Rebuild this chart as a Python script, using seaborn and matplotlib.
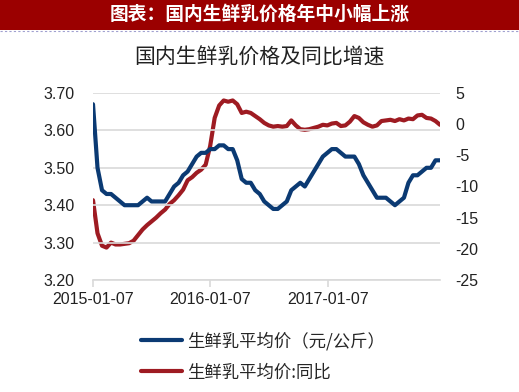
import matplotlib
matplotlib.use('Agg')

import matplotlib.pyplot as plt
import pandas as pd
import seaborn as sns

# Values (biweekly, 2015-01-07 .. 2017-12-20)
dates = pd.date_range('2015-01-07', periods=78, freq='14D')

price = [3.67, 3.50, 3.44, 3.43, 3.43, 3.42, 3.41, 3.40, 3.40, 3.40,
         3.40, 3.41, 3.42, 3.41, 3.41, 3.41, 3.41, 3.43, 3.45, 3.46,
         3.48, 3.49, 3.51, 3.53, 3.54, 3.54, 3.55, 3.55, 3.56, 3.56,
         3.55, 3.55, 3.52, 3.47, 3.46, 3.46, 3.44, 3.43, 3.41, 3.40,
         3.39, 3.39, 3.40, 3.41, 3.44, 3.45, 3.46, 3.45, 3.47, 3.49,
         3.51, 3.53, 3.54, 3.55, 3.55, 3.54, 3.53, 3.53, 3.53, 3.51,
         3.48, 3.46, 3.44, 3.42, 3.42, 3.42, 3.41, 3.40, 3.41, 3.42,
         3.46, 3.48, 3.48, 3.49, 3.50, 3.50, 3.52, 3.52]

yoy = [-12.2, -17.5, -19.5, -19.8, -19.0, -19.3, -19.3, -19.2, -19.1, -18.7,
       -17.8, -16.9, -16.2, -15.6, -15.0, -14.3, -13.7, -12.8, -12.2, -11.4,
       -10.5, -9.0, -8.5, -7.8, -7.3, -6.5, -3.5, 1.0, 3.0, 3.8,
       3.6, 3.8, 3.2, 1.8, 2.0, 1.8, 1.3, 0.8, 0.2, -0.2,
       -0.4, -0.3, -0.4, -0.3, 0.6, -0.2, -0.8, -0.9, -0.8, -0.6,
       -0.4, -0.1, -0.2, 0.1, 0.2, -0.3, -0.2, 0.4, 1.3, 1.0,
       0.3, -0.1, -0.4, -0.2, 0.5, 0.6, 0.7, 0.5, 0.8, 0.6,
       0.9, 0.8, 1.4, 1.5, 1.0, 0.9, 0.5, -0.1]

left_ticks = [3.20, 3.30, 3.40, 3.50, 3.60, 3.70]
right_ticks = [-25, -20, -15, -10, -5, 0, 5]
x_ticks = ['2015-01-07', '2016-01-07', '2017-01-07']

label_price = '生鲜乳平均价（元/公斤）'
label_yoy = '生鲜乳平均价:同比'
banner = '图表：国内生鲜乳价格年中小幅上涨'
title = '国内生鲜乳价格及同比增速'

df = pd.DataFrame({'date': dates, 'price': price, 'yoy': yoy})

sns.set_style('white')
plt.rcParams['font.family'] = ['Liberation Sans', 'Noto Sans CJK SC', 'DejaVu Sans']
cjk = ['Noto Sans CJK SC', 'DejaVu Sans']

blue = '#0b3a73'
red = '#9e1b22'
grid = '#d9d9d9'
txt = '#222222'

fig = plt.figure(figsize=(5.19, 3.92), dpi=100)
ax = fig.add_axes([93 / 519, 1 - 280 / 392, 347 / 519, 187 / 392])
ax2 = ax.twinx()

sns.lineplot(data=df, x='date', y='price', ax=ax, color=blue, linewidth=3, label=label_price, legend=False)
sns.lineplot(data=df, x='date', y='yoy', ax=ax2, color=red, linewidth=3, label=label_yoy, legend=False)

ax.set_xlim(dates[0], dates[-1])
ax.set_ylim(3.20, 3.70)
ax2.set_ylim(-25, 5)
ax.set_yticks(left_ticks)
ax.set_yticklabels([f'{v:.2f}' for v in left_ticks], fontsize=11.5)
ax2.set_yticks(right_ticks)
ax2.set_yticklabels([str(v) for v in right_ticks], fontsize=11.5)
ax.set_xticks(pd.to_datetime(x_ticks))
ax.set_xticklabels(x_ticks, fontsize=11.5)

ax.grid(axis='y', color=grid, linewidth=1.2)
ax.grid(axis='x', visible=False)
ax.set_axisbelow(True)
for a in (ax, ax2):
    for s in ['top', 'left', 'right', 'bottom']:
        a.spines[s].set_visible(False)
    a.set_xlabel('')
    a.set_ylabel('')
ax.spines['bottom'].set_visible(True)
ax.spines['bottom'].set_color(grid)
ax.spines['bottom'].set_linewidth(1.2)
ax.tick_params(axis='x', bottom=True, direction='out', length=5, width=1.2,
               color=grid, labelcolor=txt, pad=4)
ax.tick_params(axis='y', length=0, pad=13, labelcolor=txt)
ax2.tick_params(axis='y', length=0, pad=11, labelcolor=txt)
ax.set_zorder(ax2.get_zorder() + 1)
ax.patch.set_visible(False)

# banner
fig.patches.append(plt.Rectangle((0, 1 - 30 / 392), 1, 30 / 392, transform=fig.transFigure,
                                 facecolor='#9b0000', edgecolor='none'))
fig.lines.append(plt.Line2D([0, 1], [1 - 31 / 392] * 2, transform=fig.transFigure,
                            color='#a0a0d0', linestyle=(0, (2, 2)), linewidth=0.8))
fig.text(0.5, 1 - 14 / 392, banner, ha='center', va='center', color='white',
         fontsize=13.5, fontweight='bold', family=cjk)
fig.text(0.5, 1 - 58 / 392, title, ha='center', va='center', color=txt,
         fontsize=15, family=cjk)

# legend
handles = ax.get_lines()[:1] + ax2.get_lines()[:1]
fig.legend(handles, [label_price, label_yoy], loc='upper left',
           bbox_to_anchor=(125 / 519, 1 - 316 / 392), frameon=False,
           handlelength=2.4, handletextpad=0.3, labelspacing=0.75,
           prop={'family': cjk, 'size': 12.5})

fig.savefig('out.png', dpi=100)
